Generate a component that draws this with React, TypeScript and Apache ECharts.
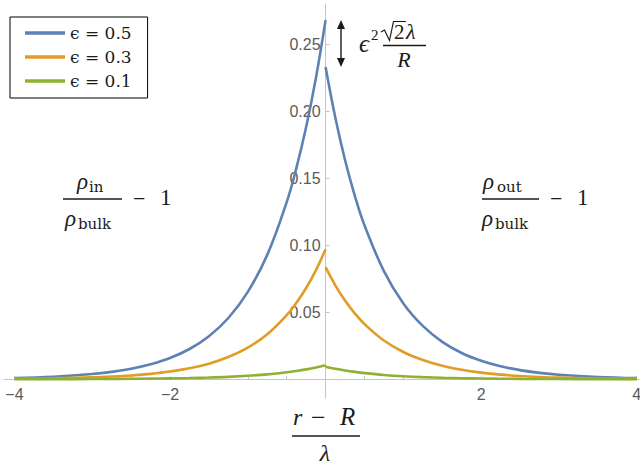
import React, { useEffect, useRef } from "react";
import * as echarts from "echarts";

const xLeft = [-4, -3.5, -3, -2.75, -2.5, -2.25, -2, -1.75, -1.5, -1.25, -1, -0.75, -0.5, -0.375, -0.25, -0.125, 0];
const xRight = [0, 0.125, 0.25, 0.375, 0.5, 0.75, 1, 1.25, 1.5, 1.75, 2, 2.25, 2.5, 2.75, 3, 3.5, 4];

const blueLeft = [0.00094, 0.0019, 0.00385, 0.00549, 0.0078, 0.01112, 0.0158, 0.02256, 0.0321, 0.0457, 0.0652, 0.0928, 0.1322, 0.1577, 0.1882, 0.2246, 0.268];
const orangeLeft = [0.00034, 0.00069, 0.00139, 0.00199, 0.00282, 0.00403, 0.00573, 0.00816, 0.01163, 0.01656, 0.02358, 0.03358, 0.04783, 0.05707, 0.06811, 0.08129, 0.097];
const greenLeft = [0.00004, 0.00007, 0.00015, 0.00021, 0.00031, 0.00044, 0.00062, 0.00088, 0.00126, 0.00179, 0.00255, 0.00364, 0.00518, 0.00618, 0.00737, 0.0088, 0.0105];
const blueRight = [0.233, 0.1953, 0.1636, 0.1371, 0.1149, 0.0807, 0.0566, 0.0398, 0.0279, 0.01961, 0.0138, 0.00967, 0.0068, 0.00477, 0.00335, 0.00165, 0.00081];
const orangeRight = [0.0836, 0.0701, 0.0587, 0.0492, 0.0412, 0.0289, 0.0203, 0.0143, 0.01, 0.00704, 0.00494, 0.00347, 0.00243, 0.00171, 0.0012, 0.00059, 0.00029];
const greenRight = [0.0093, 0.0078, 0.00653, 0.00547, 0.00459, 0.00322, 0.00226, 0.00159, 0.00112, 0.00078, 0.00055, 0.00039, 0.00027, 0.00019, 0.00013, 0.00007, 0.00003];

const seriesNames = ["ϵ = 0.5", "ϵ = 0.3", "ϵ = 0.1"];
const seriesColors = ["#5e81b5", "#e19c24", "#8fb032"];

const xLabelValues = [-4, -2, 2, 4];
const xTickValues = [-4, -3.5, -3, -2.5, -2, -1.5, -1, -0.5, 0.5, 1, 1.5, 2, 2.5, 3, 3.5, 4];
const yLabelValues = [0.05, 0.1, 0.15, 0.2, 0.25];

const SERIF = "'Liberation Serif', 'DejaVu Serif', serif";
const DSERIF = "'DejaVu Serif', 'Liberation Serif', serif";
const SANS = "'Liberation Sans', Arial, sans-serif";

const X_MIN = -4.135;
const X_MAX = 4.03;
const Y_MIN = -0.014;
const Y_MAX = 0.28;
const GRID = { left: 4, right: 1, top: 4, bottom: 71 };
const W = 640;
const H = 469;

function T(text: string, x: number, y: number, size: number, opts: any = {}) {
  return {
    type: "text",
    x,
    y,
    silent: true,
    style: {
      text,
      fontSize: size,
      fontFamily: opts.family || SERIF,
      fontStyle: opts.italic ? "italic" : "normal",
      fill: "#1a1a1a",
      align: opts.align || "left",
      verticalAlign: "middle",
    },
  };
}

function L(x1: number, y1: number, x2: number, y2: number, w = 1.3) {
  return {
    type: "line",
    silent: true,
    shape: { x1, y1, x2, y2 },
    style: { stroke: "#1a1a1a", lineWidth: w },
  };
}

export default function App() {
  const ref = useRef<HTMLDivElement>(null);
  useEffect(() => {
    if (!ref.current) return;
    const chart = echarts.init(ref.current, null, { renderer: "svg" });
    const mk = (name: string, color: string, xs: number[], ys: number[]) => ({
      name,
      type: "line",
      color,
      data: xs.map((x, i) => [x, ys[i]]),
      showSymbol: false,
      symbol: "none",
      smooth: 0.4,
      lineStyle: { width: 2.6, color },
      emphasis: { disabled: true },
    });
    const series = [
      mk(seriesNames[0], seriesColors[0], xLeft, blueLeft),
      mk(seriesNames[0], seriesColors[0], xRight, blueRight),
      mk(seriesNames[1], seriesColors[1], xLeft, orangeLeft),
      mk(seriesNames[1], seriesColors[1], xRight, orangeRight),
      mk(seriesNames[2], seriesColors[2], xLeft, greenLeft),
      mk(seriesNames[2], seriesColors[2], xRight, greenRight),
    ];
    const gridW = W - GRID.left - GRID.right;
    const gridH = H - GRID.top - GRID.bottom;
    const yOffset = -((0 - X_MIN) / (X_MAX - X_MIN)) * gridW;
    const xOffset = -((0 - Y_MIN) / (Y_MAX - Y_MIN)) * gridH;

    const axisGray = "#c4c4c4";
    const graphic: any[] = [
      // left fraction
      T("ρ", 77, 181, 23, { italic: true }),
      T("in", 89, 187, 15, { family: DSERIF }),
      L(63, 199, 122, 199),
      T("ρ", 65, 218, 23, { italic: true }),
      T("bulk", 78, 223.5, 15, { family: DSERIF }),
      T("−", 133, 198, 22),
      T("1", 160, 197, 23),
      // right fraction
      T("ρ", 483, 181, 23, { italic: true }),
      T("out", 497, 187, 15, { family: DSERIF }),
      L(482, 199, 539, 199),
      T("ρ", 482, 218, 23, { italic: true }),
      T("bulk", 495, 223.5, 15, { family: DSERIF }),
      T("−", 550, 198, 22),
      T("1", 577, 197, 23),
      // arrow
      L(341, 27, 341, 60, 1.4),
      {
        type: "polygon",
        silent: true,
        shape: { points: [[341, 20], [337, 29], [345, 29]] },
        style: { fill: "#1a1a1a" },
      },
      {
        type: "polygon",
        silent: true,
        shape: { points: [[341, 67], [337, 58], [345, 58]] },
        style: { fill: "#1a1a1a" },
      },
      // epsilon^2 sqrt2 lambda / R
      T("ϵ", 359, 43, 25, { italic: true }),
      T("2", 371, 35, 15),
      {
        type: "polyline",
        silent: true,
        shape: { points: [[381, 32], [384.5, 30], [389.5, 40.5], [393.5, 21.5], [406, 21.5]] },
        style: { stroke: "#1a1a1a", lineWidth: 1.2, fill: "none" },
      },
      T("2", 394, 31.5, 21),
      T("λ", 406, 31.5, 22, { italic: true }),
      L(383, 45.5, 426, 45.5),
      T("R", 404, 59, 22, { italic: true, align: "center" }),
      // x title
      T("r", 293, 417, 24, { italic: true }),
      T("−", 311, 417, 26),
      T("R", 340, 416, 25, { italic: true }),
      L(292, 436, 360, 436, 1.4),
      T("λ", 325, 453, 24, { italic: true, align: "center" }),
    ];

    chart.setOption({
      animation: false,
      backgroundColor: "#ffffff",
      grid: { ...GRID, containLabel: false, outerBoundsMode: "none" },
      legend: {
        data: seriesNames,
        orient: "vertical",
        left: 10,
        top: 17,
        padding: [7, 16, 8, 15],
        itemGap: 6,
        itemWidth: 40,
        itemHeight: 3.5,
        icon: "rect",
        borderColor: "#000",
        borderWidth: 1,
        backgroundColor: "#fff",
        selectedMode: false,
        textStyle: { fontFamily: DSERIF, fontSize: 17, color: "#1a1a1a", lineHeight: 18 },
      },
      xAxis: {
        type: "value",
        min: X_MIN,
        max: X_MAX,
        position: "bottom",
        offset: xOffset,
        axisLine: { onZero: false, lineStyle: { color: axisGray, width: 1 } },
        axisTick: {
          show: true,
          inside: true,
          length: 3,
          customValues: xTickValues,
          lineStyle: { color: axisGray },
        },
        axisLabel: {
          customValues: xLabelValues,
          color: "#5a5a5a",
          fontFamily: SANS,
          fontSize: 16,
          margin: 7,
          formatter: (v: number) => (v < 0 ? "−" + Math.abs(v) : String(v)),
        },
        splitLine: { show: false },
      },
      yAxis: {
        type: "value",
        min: Y_MIN,
        max: Y_MAX,
        position: "left",
        offset: yOffset,
        axisLine: { show: true, onZero: false, lineStyle: { color: axisGray, width: 1 } },
        axisTick: {
          show: true,
          inside: true,
          length: 4,
          customValues: yLabelValues,
          lineStyle: { color: axisGray },
        },
        axisLabel: {
          customValues: yLabelValues,
          color: "#5a5a5a",
          fontFamily: SANS,
          fontSize: 16,
          margin: 5,
          formatter: (v: number) => v.toFixed(2),
        },
        splitLine: { show: false },
      },
      series,
      graphic,
    });
    return () => chart.dispose();
  }, []);
  return (
    <div
      ref={ref}
      style={{ position: "fixed", left: 0, top: 0, width: W, height: H, background: "#fff" }}
    />
  );
}
